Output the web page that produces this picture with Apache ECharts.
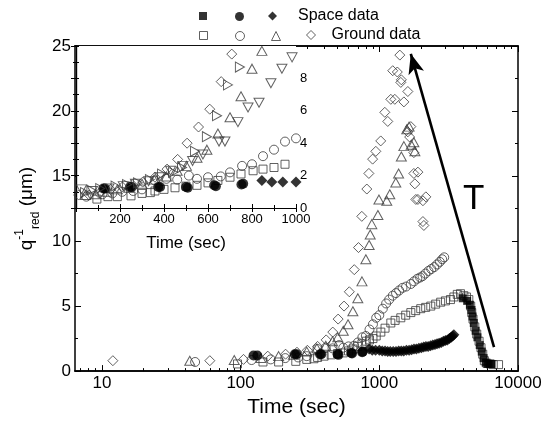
<!DOCTYPE html>
<html>
<head>
<meta charset="utf-8">
<title>q-1 red vs time</title>
<script src="https://cdn.jsdelivr.net/npm/echarts@6/dist/echarts.min.js"></script>
<style>
  html, body { margin: 0; padding: 0; background: #fff; }
  #chart { width: 557px; height: 423px; }
</style>
</head>
<body>
<div id="chart"></div>
<script>
// [time (sec), q^-1 red (um)]
var groundSquare = [[95,0.55],[145,0.7],[188,0.7],[250,0.75],[300,0.9],[338,0.95],[359,1.05],[400,1.15],[450,1.25],[500,1.35],[550,1.4],[600,1.55],[645,1.7],[700,1.9],[750,2.1],[805,2.3],[850,2.4],[900,2.5],[950,2.7],[1026,3.0],[1100,3.3],[1211,3.7],[1300,3.9],[1429,4.1],[1550,4.3],[1688,4.5],[1830,4.65],[1990,4.8],[2160,4.9],[2351,5.0],[2550,5.15],[2770,5.3],[3000,5.4],[3260,5.5],[3450,5.7],[3650,5.9],[3850,5.95],[4070,5.8],[4250,5.7],[4420,5.5],[4560,5.0],[4640,4.5],[4740,4.0],[4880,3.4],[5040,2.85],[5240,2.3],[5410,1.8],[5570,1.3],[5720,0.8],[5970,0.6],[6300,0.55],[6630,0.5],[7240,0.5]];
var groundCircle = [[47,0.7],[120,0.85],[165,0.9],[210,1.0],[260,1.05],[300,1.15],[358,1.7],[411,1.8],[460,1.75],[513,2.0],[550,1.8],[600,1.9],[658,1.95],[700,2.2],[755,2.6],[800,2.7],[850,3.2],[900,3.6],[950,4.1],[1000,4.3],[1060,4.8],[1120,5.2],[1178,5.5],[1250,5.8],[1320,6.0],[1390,6.2],[1470,6.4],[1560,6.5],[1688,6.7],[1780,6.9],[1880,7.1],[1970,7.2],[2051,7.3],[2150,7.5],[2260,7.7],[2370,7.85],[2490,8.0],[2610,8.2],[2730,8.4],[2840,8.6],[2938,8.75]];
var groundTriangle = [[43,0.8],[90,0.85],[140,1.0],[188,1.15],[240,1.25],[300,1.5],[355,1.75],[411,1.95],[460,2.3],[502,2.6],[550,3.1],[595,3.6],[645,4.6],[700,5.6],[750,6.9],[800,8.6],[845,9.7],[860,10.5],[883,11.3],[977,12.0],[994,13.2],[1132,13.1],[1190,13.6],[1315,14.5],[1378,15.2],[1442,16.5],[1504,17.3],[1578,18.6],[1640,18.8],[1700,17.4],[1775,17.6],[1805,16.9]];
var groundDiamond = [[12,0.8],[60,0.8],[105,0.9],[157,1.15],[211,1.3],[255,1.45],[303,1.6],[359,1.9],[414,2.4],[462,3.0],[505,4.0],[557,5.0],[608,6.1],[660,7.8],[708,9.5],[748,11.9],[813,14.0],[841,15.2],[895,16.3],[944,16.9],[1024,17.7],[1096,19.9],[1151,19.2],[1211,20.9],[1250,23.1],[1294,20.9],[1349,23.0],[1406,24.3],[1429,22.2],[1442,22.4],[1504,20.7],[1606,21.5],[1606,18.4],[1655,18.0],[1688,18.8],[1775,16.8],[1775,15.2],[1805,14.4],[1898,15.3],[1898,13.2],[1835,13.2],[2063,13.1],[2063,11.5],[2096,11.2],[2166,13.4]];
// only in the inset
var groundRight = [[41,0.95],[70,1.1],[110,1.2],[180,1.35],[232,1.45],[282,1.55],[336,1.75],[391,2.1],[441,2.2],[482,2.5],[541,3.5],[595,4.4],[641,5.7],[691,7.6],[745,8.7]];
var groundDown = [[25,1.15],[75,1.05],[150,1.2],[215,1.35],[270,1.5],[330,1.65],[380,1.9],[430,2.3],[486,2.6],[530,2.9],[577,3.3],[650,4.1],[677,4.1],[736,5.3],[782,6.2],[832,6.5],[886,7.7],[936,8.6],[982,9.3]];

var spaceSquare = [[4000,5.6],[4300,5.4],[4500,5.1],[4620,4.7],[4700,4.2],[4800,3.7],[4950,3.1],[5100,2.6],[5300,2.0],[5480,1.5],[5650,1.0],[5850,0.65],[6050,0.55],[6250,0.55],[6450,0.55]];
var spaceCircle = [[124,1.2],[132,1.2],[246,1.3],[254,1.3],[374,1.3],[382,1.3],[500,1.3],[508,1.25],[628,1.4],[636,1.35],[752,1.45],[760,1.5]];
var spaceDiamond = [[845,1.7],[890,1.6],[940,1.6],[1000,1.6],[1050,1.55],[1100,1.55],[1150,1.5],[1200,1.5],[1260,1.5],[1320,1.5],[1380,1.55],[1440,1.55],[1500,1.55],[1570,1.6],[1640,1.6],[1710,1.65],[1780,1.7],[1850,1.7],[1930,1.75],[2010,1.8],[2090,1.85],[2170,1.9],[2250,1.9],[2340,1.95],[2430,2.0],[2520,2.05],[2610,2.1],[2700,2.15],[2800,2.2],[2900,2.3],[3000,2.35],[3100,2.4],[3200,2.5],[3300,2.6],[3380,2.7],[3450,2.8]];

// tick values
var mainXLabels = [10, 100, 1000, 10000];
var mainXMinor = [7, 8, 9, 20, 30, 40, 50, 60, 70, 80, 90, 200, 300, 400, 500, 600, 700, 800, 900, 2000, 3000, 4000, 5000, 6000, 7000, 8000, 9000];

// temperature arrow, [time, q]
var arrowFrom = [6714, 1.85];
var arrowTo = [1687, 24.4];

var FONT = 'Liberation Sans, Arial, sans-serif';
var chart = echarts.init(document.getElementById('chart'));

var openStyle = { color: 'rgba(255,255,255,0)', borderColor: '#3a3a3a', borderWidth: 1 };
var fillStyle = { color: '#000', borderWidth: 0 };

var defs = [
    { name: 'gSq', data: groundSquare, symbol: 'rect', size: 8, open: true },
    { name: 'gCi', data: groundCircle, symbol: 'circle', size: 9, open: true },
    { name: 'gTr', data: groundTriangle, symbol: 'triangle', size: [10, 9], open: true },
    { name: 'gDi', data: groundDiamond, symbol: 'diamond', size: 10, open: true },
    { name: 'sSq', data: spaceSquare, symbol: 'rect', size: 8, open: false },
    { name: 'sCi', data: spaceCircle, symbol: 'circle', size: 10, open: false },
    { name: 'sDi', data: spaceDiamond, symbol: 'diamond', size: 11, open: false }
];
var insetOnly = [
    { name: 'gRi', data: groundRight, symbol: 'triangle', size: [10, 9], rotate: -90, open: true },
    { name: 'gDn', data: groundDown, symbol: 'triangle', size: [10, 9], rotate: 180, open: true }
];

function scatter(d, inset) {
    return {
        name: inset ? 'inset-' + d.name : d.name,
        type: 'scatter',
        xAxisIndex: inset ? 4 : 0,
        yAxisIndex: inset ? 2 : 0,
        data: d.data,
        symbol: d.symbol,
        symbolSize: d.size,
        symbolRotate: d.rotate || 0,
        itemStyle: d.open ? openStyle : fillStyle,
        clip: true,
        silent: true,
        z: inset ? 12 : 2
    };
}

var series = [];
defs.forEach(function (d) { series.push(scatter(d, false)); });
defs.forEach(function (d) { series.push(scatter(d, true)); });
insetOnly.forEach(function (d) { series.push(scatter(d, true)); });

// arrow on main plot
series[3].markLine = {
    silent: true,
    symbol: ['none', 'arrow'],
    symbolSize: [12, 20],
    lineStyle: { color: '#000', width: 2.6, type: 'solid' },
    label: { show: false },
    data: [[{ coord: arrowFrom }, { coord: arrowTo }]]
};

// legend, one component per symbol
var legendLayout = [
    { name: 'sSq', left: 199, top: 12, size: 8 },
    { name: 'sCi', left: 235, top: 12, size: 9 },
    { name: 'sDi', left: 268, top: 8, size: 9, text: 'Space data', pad: 16 },
    { name: 'gSq', left: 199, top: 31, size: 8 },
    { name: 'gCi', left: 235, top: 31, size: 9 },
    { name: 'gTr', left: 271, top: 31, size: 9 },
    { name: 'gDi', left: 306, top: 27, size: 9, text: 'Ground data', pad: 11 }
];
var legends = legendLayout.map(function (l) {
    return {
        data: [l.name],
        left: l.left,
        top: l.top,
        padding: 0,
        itemWidth: l.size,
        itemHeight: l.size,
        selectedMode: false,
        itemStyle: { borderWidth: 1 },
        formatter: function () { return l.text ? '{t|' + l.text + '}' : ''; },
        textStyle: {
            color: '#000', fontFamily: FONT, fontSize: 16,
            rich: { t: { fontSize: 16, fontFamily: FONT, color: '#000', padding: [0, 0, 0, l.pad || 0] } }
        }
    };
});

var axisLine = { lineStyle: { color: '#000', width: 1.5 } };
var tickMajor = { inside: true, length: 6, lineStyle: { color: '#000', width: 1 } };
var tickMinor = { inside: true, length: 3, lineStyle: { color: '#000', width: 1 } };

function logAxis(pos, major, withLabel) {
    return {
        type: 'log', gridIndex: 0, position: pos, min: 6.4, max: 10000,
        axisLine: axisLine,
        axisTick: echarts.util.extend({ customValues: major ? mainXLabels : mainXMinor }, major ? tickMajor : tickMinor),
        axisLabel: withLabel ? {
            customValues: mainXLabels, color: '#000', fontFamily: FONT, fontSize: 17, margin: 4,
            formatter: function (v) { return String(Math.round(v)); }
        } : { show: false },
        splitLine: { show: false },
        name: withLabel ? 'Time (sec)' : '',
        nameLocation: 'middle',
        nameGap: 19,
        nameTextStyle: { color: '#000', fontFamily: FONT, fontSize: 21 }
    };
}

var option = {
    animation: false,
    backgroundColor: '#fff',
    legend: legends,
    grid: [
        { left: 75, right: 39, top: 46, bottom: 51, show: false },
        { left: 76, top: 46, width: 220, height: 162, show: true, backgroundColor: '#fff', borderWidth: 0, z: 5 }
    ],
    xAxis: [
        logAxis('bottom', true, true),
        logAxis('bottom', false, false),
        logAxis('top', true, false),
        logAxis('top', false, false),
        {
            type: 'value', gridIndex: 1, position: 'bottom', min: 0, max: 1000, interval: 200, z: 6,
            axisLine: { lineStyle: { color: '#000', width: 1.2 } },
            axisTick: { inside: true, length: 4, lineStyle: { color: '#000' } },
            minorTick: { show: true, splitNumber: 2, length: 3, lineStyle: { color: '#000' } },
            axisLabel: {
                color: '#000', fontFamily: FONT, fontSize: 13, margin: 5,
                formatter: function (v) { return v === 0 ? '' : v; }
            },
            splitLine: { show: false },
            name: 'Time (sec)', nameLocation: 'middle', nameGap: 27,
            nameTextStyle: { color: '#000', fontFamily: FONT, fontSize: 17 }
        },
        {
            type: 'value', gridIndex: 1, position: 'top', min: 0, max: 1000, interval: 200, z: 6,
            axisLine: { lineStyle: { color: '#000', width: 1.2 } },
            axisTick: { inside: true, length: 4, lineStyle: { color: '#000' } },
            minorTick: { show: true, splitNumber: 2, length: 3, lineStyle: { color: '#000' } },
            axisLabel: { show: false },
            splitLine: { show: false }
        }
    ],
    yAxis: [
        {
            type: 'value', gridIndex: 0, position: 'left', min: 0, max: 25, interval: 5,
            axisLine: axisLine,
            axisTick: tickMajor,
            minorTick: { show: true, splitNumber: 2, length: 3, lineStyle: { color: '#000' } },
            axisLabel: { color: '#000', fontFamily: FONT, fontSize: 17, margin: 4 },
            splitLine: { show: false },
            minorSplitLine: { show: false },
            name: '{q|q}{sup|-1}{sub|red}{u| (\u03bcm)}',
            nameLocation: 'middle',
            nameRotate: 90,
            nameGap: 33,
            nameTextStyle: {
                color: '#000', fontFamily: FONT,
                rich: {
                    q: { fontSize: 19, fontFamily: FONT, color: '#000', lineHeight: 28 },
                    sup: { fontSize: 12, fontFamily: FONT, color: '#000', lineHeight: 14, verticalAlign: 'top' },
                    sub: { fontSize: 12, fontFamily: FONT, color: '#000', lineHeight: 14, verticalAlign: 'bottom' },
                    u: { fontSize: 19, fontFamily: FONT, color: '#000', lineHeight: 28 }
                }
            }
        },
        {
            type: 'value', gridIndex: 0, position: 'right', min: 0, max: 25, interval: 5,
            axisLine: axisLine,
            axisTick: tickMajor,
            minorTick: { show: true, splitNumber: 2, length: 3, lineStyle: { color: '#000' } },
            axisLabel: { show: false },
            splitLine: { show: false }
        },
        {
            type: 'value', gridIndex: 1, position: 'left', min: 0, max: 10, interval: 1, z: 6,
            axisLine: { lineStyle: { color: '#000', width: 1.2 } },
            axisTick: { inside: true, length: 3, lineStyle: { color: '#000' } },
            axisLabel: { show: false },
            splitLine: { show: false }
        },
        {
            type: 'value', gridIndex: 1, position: 'right', min: 0, max: 10, interval: 2, z: 6,
            axisLine: { lineStyle: { color: '#000', width: 1.2 } },
            axisTick: { inside: true, length: 5, lineStyle: { color: '#000' } },
            minorTick: { show: true, splitNumber: 2, length: 3, lineStyle: { color: '#000' } },
            axisLabel: { color: '#000', fontFamily: FONT, fontSize: 13, margin: 4, showMaxLabel: false },
            splitLine: { show: false }
        }
    ],
    graphic: [
        {
            type: 'text', left: 463, top: 182, z: 100,
            style: { text: 'T', fontSize: 35, fontFamily: FONT, fill: '#000' }
        }
    ],
    series: series
};

chart.setOption(option);
</script>
</body>
</html>
